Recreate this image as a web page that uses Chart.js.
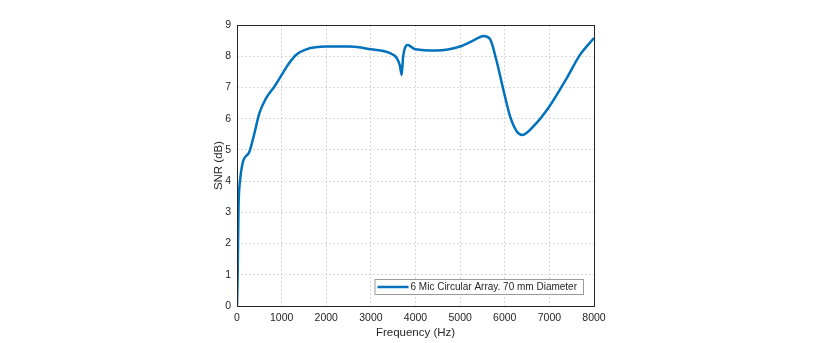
<!DOCTYPE html>
<html>
<head>
<meta charset="utf-8">
<script src="https://cdn.jsdelivr.net/npm/chart.js@4"></script>
<style>
  html, body { margin: 0; padding: 0; background: #fff; }
  canvas { display: block; }
</style>
</head>
<body>
<canvas id="snr" width="814" height="343"></canvas>
<script>
// values
const freqHz = [0, 15, 25, 35, 67, 125, 280, 390, 500, 650, 840, 1000, 1170, 1320, 1550, 2000, 2530,
  3000, 3430, 3580, 3650, 3690, 3720, 3760, 3820, 4000, 4470, 5000, 5290, 5530, 5670, 5820, 5970,
  6120, 6270, 6400, 6640, 7000, 7390, 7690, 8000];
const snrDb = [0, 1.0, 2.2, 3.2, 4.0, 4.57, 4.95, 5.53, 6.17, 6.65, 7.03, 7.4, 7.78, 8.04, 8.22, 8.31, 8.31,
  8.22, 8.1, 7.94, 7.7, 7.4, 7.95, 8.25, 8.36, 8.22, 8.18, 8.31, 8.5, 8.65, 8.55, 7.83, 6.92,
  6.07, 5.59, 5.48, 5.75, 6.39, 7.3, 8.05, 8.58];
const seriesLabel = '6 Mic Circular Array. 70 mm Diameter';
const xTicks = [0, 1000, 2000, 3000, 4000, 5000, 6000, 7000, 8000];
const yTicks = [0, 1, 2, 3, 4, 5, 6, 7, 8, 9];

const lineColor = '#0072BD';
const textColor = '#262626';
const fontFamily = 'Arial, "Liberation Sans", Helvetica, sans-serif';

// matlab style box round the axes + legend inside the bottom right corner
const boxAndLegend = {
  id: 'boxAndLegend',
  afterDraw(chart) {
    const { ctx, chartArea: a } = chart;
    ctx.save();
    ctx.strokeStyle = textColor;
    ctx.lineWidth = 1;
    ctx.setLineDash([]);
    ctx.strokeRect(a.left + 0.5, a.top + 0.5, a.right - a.left, a.bottom - a.top);

    // legend
    ctx.font = '10px ' + fontFamily;
    const tw = ctx.measureText(seriesLabel).width;
    const right = a.right - 11, bottom = a.bottom - 12;
    const h = 15, w = tw + 42;
    const left = right - w, top = bottom - h;
    ctx.fillStyle = '#fff';
    ctx.fillRect(left, top, w, h);
    ctx.strokeStyle = '#9a9a9a';
    ctx.strokeRect(left + 0.5, top + 0.5, w, h);
    ctx.strokeStyle = lineColor;
    ctx.lineWidth = 2.5;
    ctx.beginPath();
    ctx.moveTo(left + 3, top + h / 2 + 0.5);
    ctx.lineTo(left + 34, top + h / 2 + 0.5);
    ctx.stroke();
    ctx.fillStyle = textColor;
    ctx.textBaseline = 'middle';
    ctx.fillText(seriesLabel, left + 36, top + h / 2 + 1);
    ctx.restore();
  }
};

new Chart(document.getElementById('snr'), {
  type: 'line',
  data: {
    datasets: [{
      label: seriesLabel,
      data: freqHz.map((f, i) => ({ x: f, y: snrDb[i] })),
      borderColor: lineColor,
      borderWidth: 2.5,
      pointRadius: 0,
      cubicInterpolationMode: 'monotone',
      fill: false
    }]
  },
  options: {
    responsive: false,
    animation: false,
    layout: { padding: { left: 208, right: 220, top: 25, bottom: 0 } },
    plugins: { legend: { display: false }, tooltip: { enabled: false } },
    scales: {
      x: {
        type: 'linear',
        min: 0,
        max: 8000,
        afterBuildTicks: s => { s.ticks = xTicks.map(v => ({ value: v })); },
        afterFit: s => { s.height = 37; },
        ticks: { color: textColor, font: { size: 10.5, family: fontFamily }, padding: 6, autoSkip: false,
          maxRotation: 0, callback: v => String(v) },
        grid: { color: '#d8d8d8', drawTicks: false },
        border: { display: false, dash: [2, 2] },
        title: { display: true, text: 'Frequency (Hz)', color: textColor,
          font: { size: 11.5, family: fontFamily }, padding: { top: 0, bottom: 3 } }
      },
      y: {
        min: 0,
        max: 9,
        afterBuildTicks: s => { s.ticks = yTicks.map(v => ({ value: v })); },
        afterFit: s => { s.width = 29; },
        ticks: { color: textColor, font: { size: 10.5, family: fontFamily }, padding: 6, autoSkip: false },
        grid: { color: '#d8d8d8', drawTicks: false },
        border: { display: false, dash: [2, 2] },
        title: { display: true, text: 'SNR (dB)', color: textColor,
          font: { size: 11.5, family: fontFamily }, padding: { top: 4, bottom: 0 } }
      }
    }
  },
  plugins: [boxAndLegend]
});
</script>
</body>
</html>
